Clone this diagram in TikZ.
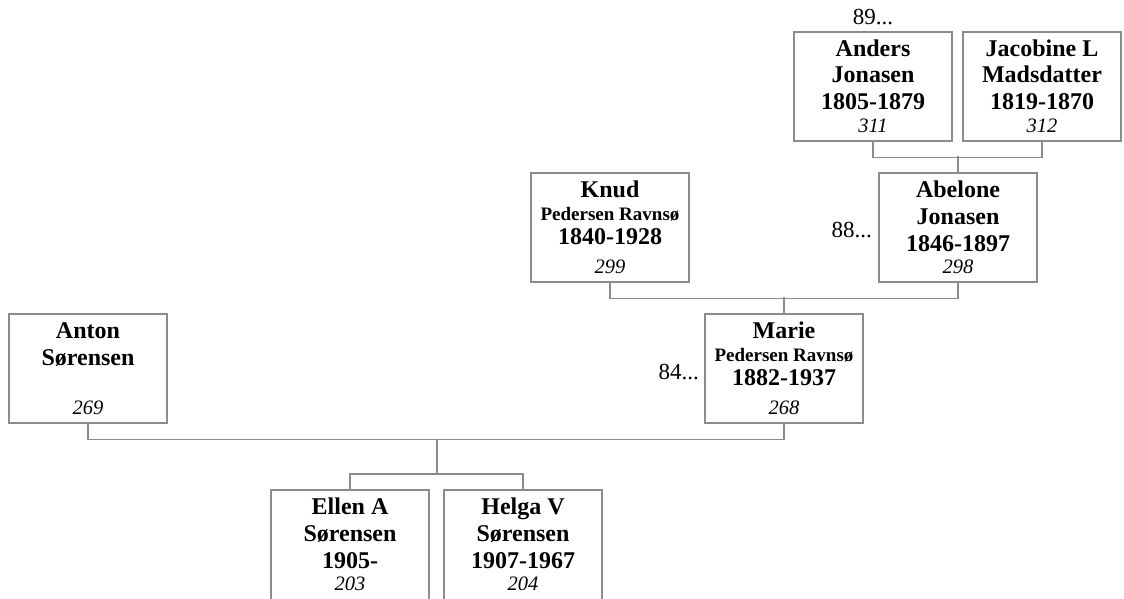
\documentclass[tikz,border=0pt]{standalone}
\usepackage{fontspec}
\setmainfont{Liberation Serif}
\tikzset{
  pbox/.style={draw=black!45, line width=1.3pt, minimum width=158pt, minimum height=109pt, inner sep=0pt},
  link/.style={draw=black!45, line width=1.3pt},
  nm/.style={anchor=base, inner sep=0pt, font=\fontsize{24}{27}\selectfont\bfseries},
  sub/.style={anchor=base, inner sep=0pt, font=\fontsize{19}{22}\selectfont\bfseries},
  num/.style={anchor=base, inner sep=0pt, font=\fontsize{20.5}{24}\selectfont\itshape},
  gen/.style={inner sep=0pt, font=\fontsize{23}{27}\selectfont},
}
\begin{document}
\begin{tikzpicture}[x=1pt,y=-1pt]
\useasboundingbox (0,0) rectangle (1124,599);
\clip (0,0) rectangle (1124,599);

% great-grandparents
\node[pbox] (anders) at (873,32+54.5) {};
\node[nm] (anders1) at (873,32+24.5) {Anders};
\node[nm] (anders2) at (873,32+51) {Jonasen};
\node[nm] (anders3) at (873,32+78) {1805-1879};
\node[num] (anders4) at (873,32+100) {311};
\node[gen,anchor=base] (g89) at (873,25) {89...};

\node[pbox] (jacobine) at (1042,32+54.5) {};
\node[nm] (jacobine1) at (1042,32+24.5) {Jacobine L};
\node[nm] (jacobine2) at (1042,32+51) {Madsdatter};
\node[nm] (jacobine3) at (1042,32+78) {1819-1870};
\node[num] (jacobine4) at (1042,32+100) {312};

% grandparents
\node[pbox] (knud) at (610,173+54.5) {};
\node[nm] (knud1) at (610,173+24.5) {Knud};
\node[sub] (knud2) at (610,173+47) {Pedersen Ravnsø};
\node[nm] (knud3) at (610,173+71.5) {1840-1928};
\node[num] (knud4) at (610,173+100) {299};

\node[pbox] (abelone) at (958,173+54.5) {};
\node[nm] (abelone1) at (958,173+24.5) {Abelone};
\node[nm] (abelone2) at (958,173+51) {Jonasen};
\node[nm] (abelone3) at (958,173+78) {1846-1897};
\node[num] (abelone4) at (958,173+100) {298};
\node[gen,anchor=base east] (g88) at (872,237) {88...};

% parents
\node[pbox] (anton) at (88,314+54.5) {};
\node[nm] (anton1) at (88,314+24.5) {Anton};
\node[nm] (anton2) at (88,314+51) {Sørensen};
\node[num] (anton4) at (88,314+100) {269};

\node[pbox] (marie) at (784,314+54.5) {};
\node[nm] (marie1) at (784,314+24.5) {Marie};
\node[sub] (marie2) at (784,314+47) {Pedersen Ravnsø};
\node[nm] (marie3) at (784,314+71.5) {1882-1937};
\node[num] (marie4) at (784,314+100) {268};
\node[gen,anchor=base east] (g84) at (699,379) {84...};

% children
\node[pbox,minimum height=116pt] (ellen) at (350,490+58) {};
\node[nm] (ellen1) at (350,490+24.5) {Ellen A};
\node[nm] (ellen2) at (350,490+51) {Sørensen};
\node[nm] (ellen3) at (350,490+78) {1905-};
\node[num] (ellen4) at (350,490+100) {203};

\node[pbox,minimum height=116pt] (helga) at (523,490+58) {};
\node[nm] (helga1) at (523,490+24.5) {Helga V};
\node[nm] (helga2) at (523,490+51) {Sørensen};
\node[nm] (helga3) at (523,490+78) {1907-1967};
\node[num] (helga4) at (523,490+100) {204};

% connectors
\path[link] (anders.south) -- ++(0,16) -| (jacobine.south);
\path[link] (abelone.north) -- ++(0,-16);
\path[link] (knud.south) -- ++(0,16) -| (abelone.south);
\path[link] (marie.north) -- ++(0,-16);
\path[link] (anton.south) -- ++(0,16) -| (marie.south);
\coordinate (fam1) at (437,440);
\coordinate (fam2) at (437,474);
\path[link] (fam1) -- (fam2);
\path[link] (ellen.north) |- (fam2) -| (helga.north);
\end{tikzpicture}
\end{document}
